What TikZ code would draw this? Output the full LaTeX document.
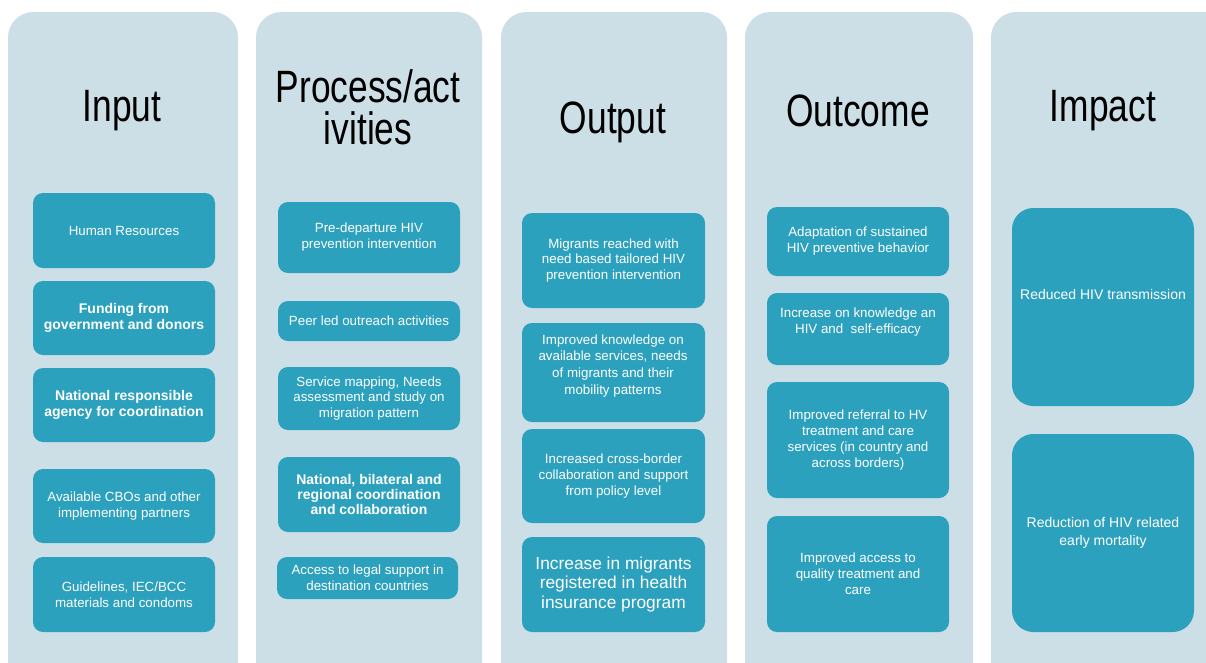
\documentclass[tikz,border=0pt]{standalone}
\usepackage{fontspec}
\setmainfont{Liberation Sans}
\newfontfamily\headfont{Liberation Sans}[FakeStretch=0.78]
\usetikzlibrary{fit, positioning}
\definecolor{stagebg}{RGB}{205,223,230}
\definecolor{cellfill}{RGB}{44,161,190}
\tikzset{
    stage/.style={fill=stagebg, rounded corners=19pt, inner sep=0pt},
    cell/.style={fill=cellfill, rounded corners=7.5pt, inner sep=0pt},
    bigcell/.style={cell, rounded corners=16pt},
    celltext/.style={text=white, align=center, font=\fontsize{10}{12}\selectfont},
    head/.style={align=center, font=\headfont\fontsize{34}{31.5}\selectfont},
}

\begin{document}
\begin{tikzpicture}[x=0.75pt, y=-0.75pt]
    \useasboundingbox (0,0) rectangle (1206,662);
    \clip (0,0) rectangle (1206,662);

    % columns
    \node[stage, fit={(8,12) (238,690)}] (incol) {};
    \node[stage, fit={(256,12) (482,690)}] (proccol) {};
    \node[stage, fit={(501,12) (727,690)}] (outcol) {};
    \node[stage, fit={(745,12) (973,690)}] (occol) {};
    \node[stage, fit={(991,12) (1230,690)}] (impcol) {};

    \node[head] (inhead) at (122,111) {Input};
    \node[head] (prochead) at (368,107) {Process/act\\ivities};
    \node[head] (outhead) at (613,122) {Output};
    \node[head] (ochead) at (858,111) {Outcome};
    \node[head] (imphead) at (1103,111) {Impact};

    % input
    \node[cell, fit={(33,193) (215,268)}] (in1) {};
    \node[cell, fit={(33,281) (215,355)}] (in2) {};
    \node[cell, fit={(33,368) (215,442)}] (in3) {};
    \node[cell, fit={(33,469) (215,543)}] (in4) {};
    \node[cell, fit={(33,557) (215,632)}] (in5) {};
    \node[celltext] at (in1) {Human Resources};
    \node[celltext, font=\bfseries\fontsize{10.5}{12}\selectfont] at (in2) {Funding from\\government and donors};
    \node[celltext, font=\bfseries\fontsize{10.5}{12}\selectfont] at (in3) {National responsible\\agency for coordination};
    \node[celltext] at (in4) {Available CBOs and other\\implementing partners};
    \node[celltext] at (in5) {Guidelines, IEC/BCC\\materials and condoms};

    % process/activities
    \node[cell, fit={(278,202) (460,273)}] (pr1) {};
    \node[cell, fit={(278,301) (460,341)}] (pr2) {};
    \node[cell, fit={(278,367) (460,430)}] (pr3) {};
    \node[cell, fit={(278,457) (460,532)}] (pr4) {};
    \node[cell, fit={(277,557) (458,599)}] (pr5) {};
    \node[celltext] at (pr1) {Pre-departure HIV\\prevention intervention};
    \node[celltext] at (pr2) {Peer led outreach activities};
    \node[celltext, font=\fontsize{10}{11.3}\selectfont] at (pr3) {Service mapping, Needs\\assessment and study on\\migration pattern};
    \node[celltext, font=\bfseries\fontsize{10.5}{11.3}\selectfont] at (pr4) {National, bilateral and\\regional coordination\\and collaboration};
    \node[celltext] at (pr5) {Access to legal support in\\destination countries};

    % output
    \node[cell, fit={(522,213) (705,308)}] (ou1) {};
    \node[cell, fit={(522,323) (705,422)}] (ou2) {};
    \node[cell, fit={(522,429) (705,523)}] (ou3) {};
    \node[cell, fit={(522,537) (705,632)}] (ou4) {};
    \node[celltext, font=\fontsize{10}{11.5}\selectfont] at (ou1) {Migrants reached with\\need based tailored HIV\\prevention intervention};
    \node[celltext, font=\fontsize{10}{12.7}\selectfont] at (613,366) {Improved knowledge on\\available services, needs\\of migrants and their\\mobility patterns};
    \node[celltext] at (ou3) {Increased cross-border\\collaboration and support\\from policy level};
    \node[celltext, font=\fontsize{13}{14.5}\selectfont] at (ou4) {Increase in migrants\\registered in health\\insurance program};

    % outcome
    \node[cell, fit={(767,207) (949,276)}] (oc1) {};
    \node[cell, fit={(767,293) (949,365)}] (oc2) {};
    \node[cell, fit={(767,382) (949,498)}] (oc3) {};
    \node[cell, fit={(767,516) (949,632)}] (oc4) {};
    \node[celltext] at (oc1) {Adaptation of sustained\\HIV preventive behavior};
    \node[celltext] at (858,322) {Increase on knowledge an\\HIV and\ \ self-efficacy};
    \node[celltext, font=\fontsize{10}{11.8}\selectfont] at (oc3) {Improved referral to HV\\treatment and care\\services (in country and\\across borders)};
    \node[celltext] at (oc4) {Improved access to\\quality treatment and\\care};

    % impact
    \node[bigcell, fit={(1012,208) (1194,406)}] (im1) {};
    \node[bigcell, fit={(1012,434) (1194,632)}] (im2) {};
    \node[celltext, font=\fontsize{10.5}{13}\selectfont] at (1103,294) {Reduced HIV transmission};
    \node[celltext, font=\fontsize{10.5}{13}\selectfont] at (im2) {Reduction of HIV related\\early mortality};
\end{tikzpicture}
\end{document}
